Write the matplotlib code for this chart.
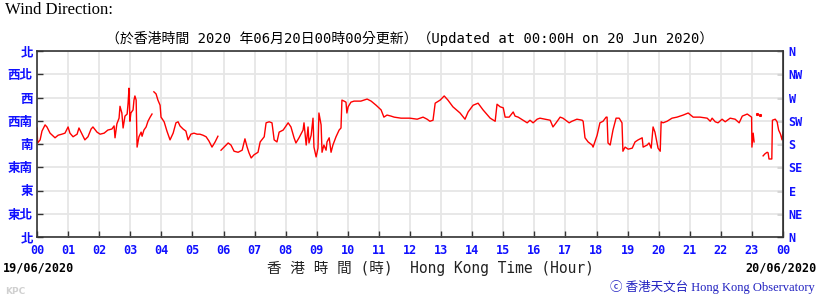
import matplotlib

matplotlib.use("Agg")
import matplotlib.pyplot as plt
import numpy as np

# wind direction (degrees) against Hong Kong time (hours since 00:00 on 19/06)
# NaN marks the data gaps
hours = [
    0.00, 0.02, 0.10, 0.16, 0.26, 0.32, 0.42, 0.58, 0.68, 0.80, 0.90, 1.00, 1.06, 1.16,
    1.29, 1.35, 1.45, 1.54, 1.64, 1.74, 1.80, 1.93, 2.03, 2.16, 2.28, 2.41, 2.48, 2.51,
    2.57, 2.64, 2.67, 2.73, 2.77, 2.83, 2.90, 2.93, 2.96, 2.99, 3.02, 3.09, 3.12, 3.15,
    3.19, 3.22, 3.28, 3.35, 3.38, 3.44, 3.51, 3.57, 3.64, 3.70, 3.73,
    3.76, 3.83, 3.89, 3.96, 3.99, 4.09, 4.18, 4.28, 4.38, 4.47, 4.54, 4.60, 4.70, 4.79,
    4.86, 4.95, 5.05, 5.15, 5.24, 5.34, 5.44, 5.53, 5.63, 5.73, 5.82, 5.86,
    5.92, 6.02, 6.15, 6.24, 6.34, 6.47, 6.60, 6.69, 6.76, 6.82, 6.89, 6.98, 7.11, 7.18,
    7.31, 7.37, 7.47, 7.56, 7.63, 7.72, 7.79, 7.92, 8.08, 8.17, 8.27, 8.33, 8.43, 8.56,
    8.59, 8.66, 8.72, 8.75, 8.82, 8.88, 8.91, 8.98, 9.04, 9.07, 9.14, 9.17, 9.23, 9.30,
    9.33, 9.40, 9.46, 9.52, 9.62, 9.72, 9.78, 9.81, 9.88, 9.94, 9.97, 10.01, 10.10,
    10.20, 10.42, 10.62, 10.75, 10.91, 11.07, 11.16, 11.26, 11.39, 11.49, 11.71, 11.90,
    12.00, 12.23, 12.42, 12.55, 12.64, 12.74, 12.81, 12.97, 13.10, 13.22, 13.38, 13.61,
    13.77, 13.87, 14.03, 14.19, 14.35, 14.58, 14.74, 14.80, 14.90, 15.00, 15.06, 15.19,
    15.32, 15.38, 15.48, 15.64, 15.77, 15.86, 15.96, 16.09, 16.18, 16.34, 16.51, 16.60,
    16.70, 16.83, 16.92, 17.05, 17.12, 17.21, 17.37, 17.54, 17.57, 17.63, 17.73, 17.86,
    17.89, 18.02, 18.11, 18.21, 18.31, 18.34, 18.37, 18.44, 18.53, 18.63, 18.73, 18.82,
    18.85, 18.92, 19.02, 19.15, 19.24, 19.34, 19.47, 19.50, 19.63, 19.69, 19.76, 19.82,
    19.88, 19.98, 20.05, 20.08, 20.14, 20.27, 20.43, 20.59, 20.79, 20.95, 21.11, 21.33,
    21.56, 21.66, 21.72, 21.82, 21.91, 22.04, 22.14, 22.30, 22.46, 22.59, 22.69, 22.85,
    22.94, 22.99, 23.00, 23.04, 23.07, 23.10,
    23.36, 23.42, 23.49, 23.52, 23.55, 23.64, 23.66, 23.75, 23.81, 23.86, 23.92, 23.97,
    24.00,
]
direction = [
    211, 182, 188, 205, 217, 213, 201, 192, 197, 199, 201, 213, 201, 194,
    199, 211, 199, 188, 194, 209, 213, 203, 199, 201, 207, 209, 215, 192,
    219, 230, 253, 240, 211, 234, 238, 259, 288, 224, 240, 246, 265, 273,
    265, 174, 194, 203, 195, 207, 213, 224, 232, 238, np.nan,
    281, 277, 265, 255, 232, 223, 205, 188, 201, 221, 223, 215, 209, 205,
    188, 199, 201, 199, 199, 197, 194, 186, 174, 184, 195, np.nan,
    168, 174, 182, 178, 166, 164, 168, 190, 174, 163, 153, 159, 164, 184,
    194, 221, 223, 221, 188, 184, 203, 207, 221, 213, 192, 182, 192, 207,
    221, 178, 213, 182, 197, 230, 174, 155, 172, 240, 217, 164, 178, 168,
    184, 192, 164, 178, 194, 207, 211, 265, 263, 261, 240, 252, 261,
    263, 263, 267, 263, 255, 246, 232, 236, 234, 232, 230, 230,
    230, 228, 232, 228, 224, 226, 259, 265, 273, 265, 252, 240,
    228, 242, 255, 259, 246, 230, 224, 257, 252, 250, 232, 232,
    242, 234, 232, 226, 221, 226, 221, 228, 230, 228, 226, 213,
    221, 232, 230, 224, 221, 224, 228, 226, 224, 192, 184, 178,
    174, 197, 221, 224, 232, 232, 182, 178, 207, 230, 230, 221,
    166, 174, 170, 172, 184, 188, 192, 174, 178, 182, 172, 213,
    203, 172, 166, 223, 221, 224, 230, 232, 236, 240, 232, 232,
    230, 224, 230, 223, 221, 228, 223, 230, 228, 221, 234, 238,
    234, 232, 174, 201, 184, np.nan,
    157, 161, 164, 163, 151, 151, 226, 228, 223, 207, 199, 188,
    203,
]
# isolated readings shortly after 23:00
dot_hours = [23.16, 23.26]
dot_direction = [238, 236]

hour_labels = [f"{h % 24:02d}" for h in range(25)]
dir_ticks = [0, 45, 90, 135, 180, 225, 270, 315, 360]
dir_labels_zh = ["北", "東北", "東", "東南", "南", "西南", "西", "西北", "北"]
dir_labels_en = ["N", "NE", "E", "SE", "S", "SW", "W", "NW", "N"]

title = "（於香港時間 2020 年06月20日00時00分更新）（Updated at 00:00H on 20 Jun 2020）"
xlabel = "香 港 時 間 (時)  Hong Kong Time (Hour)"
date_start = "19/06/2020"
date_end = "20/06/2020"

BLUE = "#1010ff"
MONO_CJK = ["DejaVu Sans Mono", "Noto Sans CJK TC"]
CJK_MONO = ["Noto Sans CJK TC", "DejaVu Sans Mono"]
SERIF_CJK = ["Liberation Serif", "Noto Sans CJK TC"]

fig = plt.figure(figsize=(8.2, 2.97), dpi=100)
ax = fig.add_axes([37 / 820, 60 / 297, 746 / 820, 186 / 297])

ax.plot(hours, direction, color="red", lw=1.0)
ax.plot(dot_hours, dot_direction, ls="none", marker="s", ms=1.2, color="red")

ax.set_xlim(0, 24)
ax.set_ylim(0, 360)
ax.set_xticks(range(25))
ax.set_xticklabels(hour_labels, color=BLUE, fontweight="bold",
                   fontsize=8.5, family="DejaVu Sans Mono")
ax.set_yticks(dir_ticks)
ax.set_yticklabels(dir_labels_zh, color=BLUE, fontweight="bold",
                   fontsize=9, family=CJK_MONO)
ax.grid(True, color="#e6e6e6", lw=1.3)
ax.set_axisbelow(True)
ax.tick_params(direction="in", length=4, width=1, color="#333333", pad=3)
ax.tick_params(axis="x", pad=5)
for side in ax.spines.values():
    side.set_color("#333333")
    side.set_linewidth(1.2)

right = ax.secondary_yaxis("right")
right.set_yticks(dir_ticks)
right.set_yticklabels(dir_labels_en, color=BLUE, fontweight="bold",
                      fontsize=8.5, family="DejaVu Sans Mono")
right.tick_params(direction="in", length=4, width=1, color="#333333", pad=4)
right.spines["right"].set_color("#333333")

fig.text(5 / 820, 1 - 10 / 297, "Wind Direction:", family="Liberation Serif",
         fontsize=12, va="center", ha="left")
fig.text(410 / 820, 1 - 38 / 297, title, family=MONO_CJK, fontsize=10,
         va="center", ha="center")
fig.text(3 / 820, 1 - 268 / 297, date_start, family="DejaVu Sans Mono",
         fontweight="bold", fontsize=8.5, va="center", ha="left")
fig.text(817 / 820, 1 - 268 / 297, date_end, family="DejaVu Sans Mono",
         fontweight="bold", fontsize=8.5, va="center", ha="right")
fig.text(430 / 820, 1 - 268 / 297, xlabel, family=MONO_CJK, fontsize=10.5,
         va="center", ha="center", color="#222222")
fig.text(5 / 820, 1 - 291 / 297, "KPC", family="DejaVu Sans", fontweight="bold",
         fontsize=6.5, color="#d0d0d0", va="center", ha="left")
fig.text(815 / 820, 1 - 287 / 297, "ⓒ 香港天文台 Hong Kong Observatory",
         family=SERIF_CJK, fontsize=9, color="#2020c0", va="center", ha="right")

fig.savefig("out.png", dpi=100)
